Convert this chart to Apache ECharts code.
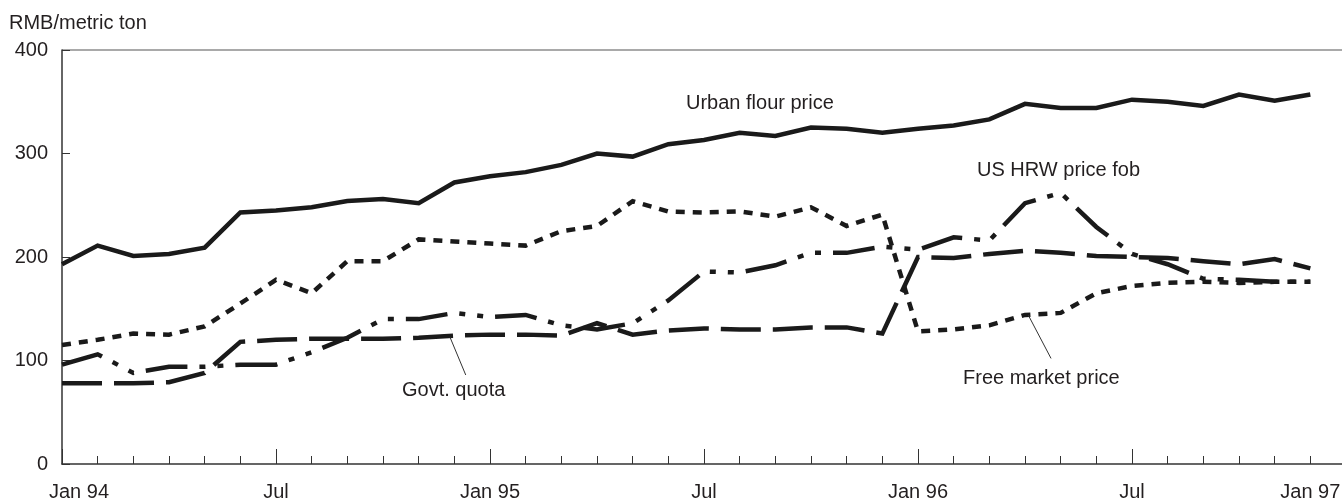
<!DOCTYPE html>
<html><head><meta charset="utf-8">
<script src="https://cdn.jsdelivr.net/npm/echarts@6/dist/echarts.min.js"></script>
<style>html,body{margin:0;padding:0;background:#fff}#c{width:1342px;height:502px}</style>
</head><body><div id="c"></div>
<script>
// Monthly, Jan 1994 .. Dec 1996 (36 months)
const urbanFlour = [193,211,201,203,209,243,245,248,254,256,252,272,278,282,289,300,297,309,313,320,317,325,324,320,324,327,333,348,344,344,352,350,346,357,351,357];
const freeMarket = [115,120,126,125,133,155,178,165,196,196,217,215,213,211,225,230,254,244,243,244,239,248,230,241,128,130,134,144,146,165,172,175,176,175,176,176];
const govtQuota  = [78,78,78,79,88,118,120,121,121,121,122,124,125,125,124,136,125,129,131,130,130,132,132,126,200,199,203,206,204,201,200,199,196,193,198,189];
const usHrw      = [96,106,88,94,94,96,96,108,122,140,140,146,142,144,134,130,136,158,186,185,192,204,204,210,207,219,216,252,262,229,203,193,179,178,176,176];
const tickMonths = [0,6,12,18,24,30,35];
const tickLabels = ['Jan 94','Jul','Jan 95','Jul','Jan 96','Jul','Jan 97'];
const yTicks = [0,100,200,300,400];

const FONT = "'Liberation Sans', Arial, sans-serif";
const INK = '#231f20';
const toPairs = arr => arr.map((v, i) => [i, v]);

const chart = echarts.init(document.getElementById('c'), null, {renderer: 'canvas'});

function lineSeries(name, data, dash) {
  return {
    name, type: 'line', data: toPairs(data), symbol: 'none', showSymbol: false,
    silent: true, animation: false,
    lineStyle: {color: '#1a1a1a', width: 4.5, type: dash, cap: 'butt', join: 'miter'}
  };
}

const sGovt = lineSeries('Govt. quota', govtQuota, [40, 12]);
sGovt.markLine = {
  symbol: 'none', silent: true, animation: false, label: {show: false},
  lineStyle: {color: '#333', width: 1, type: 'solid'},
  data: [[{coord: [10.88, 122.4]}, {coord: [11.32, 86]}]]
};
const sFree = lineSeries('Free market price', freeMarket, [9, 8]);
sFree.markLine = {
  symbol: 'none', silent: true, animation: false, label: {show: false},
  lineStyle: {color: '#333', width: 1, type: 'solid'},
  data: [[{coord: [27.09, 144]}, {coord: [27.73, 102]}]]
};

chart.setOption({
  animation: false,
  backgroundColor: '#fff',
  textStyle: {fontFamily: FONT},
  grid: {left: 62, right: -4, top: 50, bottom: 38, containLabel: false, outerBoundsMode: 'none'},
  xAxis: [{
    type: 'value', min: 0, max: 36, interval: 1, position: 'bottom',
    axisLine: {show: true, lineStyle: {color: '#333', width: 1.5}},
    axisTick: {show: true, inside: true, length: 8, lineStyle: {color: '#333', width: 1}},
    splitLine: {show: false},
    axisLabel: {
      margin: 18, fontSize: 20, color: INK, fontFamily: FONT,
      showMinLabel: true, showMaxLabel: true,
      formatter: v => {
        const k = tickMonths.indexOf(Math.round(v));
        if (k < 0 || Math.abs(v - Math.round(v)) > 1e-6) return '';
        return k === 0 ? '{first|' + tickLabels[k] + '}' : tickLabels[k];
      },
      rich: {first: {fontSize: 20, color: INK, fontFamily: FONT, padding: [0, 0, 0, 34]}}
    }
  }, {
    type: 'value', min: 0, max: 36, interval: 6, position: 'bottom', gridIndex: 0,
    axisLine: {show: false},
    axisTick: {show: true, inside: true, length: 15, lineStyle: {color: '#333', width: 1}},
    axisLabel: {show: false}, splitLine: {show: false}
  }],
  yAxis: {
    type: 'value', min: yTicks[0], max: yTicks[yTicks.length - 1], interval: 100,
    axisLine: {show: true, lineStyle: {color: '#333', width: 1.5}},
    axisTick: {show: true, inside: true, length: 8, lineStyle: {color: '#333', width: 1}},
    axisLabel: {margin: 14, fontSize: 20, color: INK, fontFamily: FONT},
    splitLine: {show: true, lineStyle: {color: ['rgba(0,0,0,0)','rgba(0,0,0,0)','rgba(0,0,0,0)','rgba(0,0,0,0)','#8c8c8c'], width: 1.5}}
  },
  graphic: [
    {type: 'text', x: 9, y: 23, silent: true, style: {text: 'RMB/metric ton', fontSize: 20, fontFamily: FONT, fill: INK, verticalAlign: 'middle', align: 'left'}},
    {type: 'text', x: 686, y: 103, silent: true, style: {text: 'Urban flour price', fontSize: 20, fontFamily: FONT, fill: INK, verticalAlign: 'middle', align: 'left'}},
    {type: 'text', x: 977, y: 170, silent: true, style: {text: 'US HRW price fob', fontSize: 20, fontFamily: FONT, fill: INK, verticalAlign: 'middle', align: 'left'}},
    {type: 'text', x: 402, y: 390, silent: true, style: {text: 'Govt. quota', fontSize: 20, fontFamily: FONT, fill: INK, verticalAlign: 'middle', align: 'left'}},
    {type: 'text', x: 963, y: 378, silent: true, style: {text: 'Free market price', fontSize: 20, fontFamily: FONT, fill: INK, verticalAlign: 'middle', align: 'left'}}
  ],
  series: [
    lineSeries('Urban flour price', urbanFlour, 'solid'),
    sFree,
    sGovt,
    lineSeries('US HRW price fob', usHrw, [42, 12, 6, 12, 6, 12])
  ]
});
</script>
</body></html>
